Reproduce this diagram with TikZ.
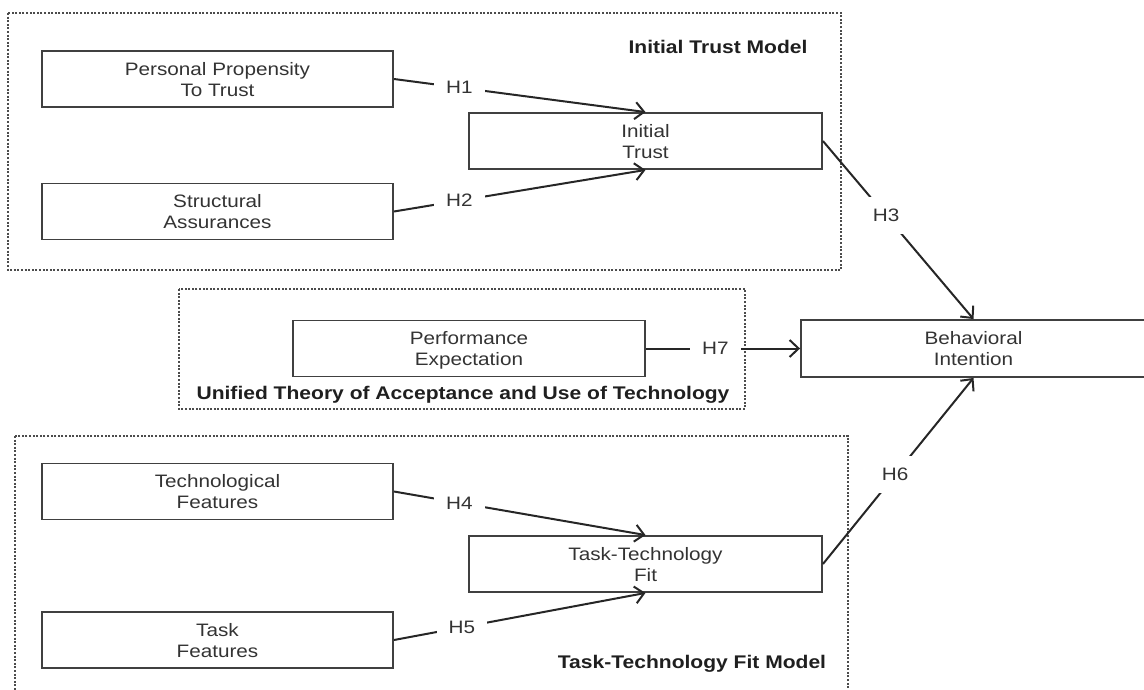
\documentclass[tikz,border=0pt]{standalone}
\usepackage{fontspec}
\setmainfont{Liberation Sans}[FakeStretch=1.15]
\usetikzlibrary{arrows.meta}

\tikzset{
  construct/.style={draw=black!75, line width=1.9pt, minimum width=351pt, minimum height=56pt,
    align=center, text=black!80, font=\fontsize{18}{21}\selectfont, inner sep=0pt, text depth=-3pt},
  modelbox/.style={draw=black!70, line width=1.5pt, dash pattern=on 2pt off 1.6pt},
  modelname/.style={text=black!88, font=\bfseries\fontsize{18.3}{21}\selectfont, inner sep=0pt},
  hyp/.style={fill=white, inner sep=12pt, text=black!80, font=\fontsize{18}{21}\selectfont},
  link/.style={draw=black!85, line width=2pt, -{Straight Barb[length=9pt,width=17pt]}}
}

\begin{document}
\begin{tikzpicture}[x=1pt, y=-1pt]
      \useasboundingbox (0,0) rectangle (1144,689);
      % model frames
      \draw[modelbox] (8,13) rectangle (841,270);
      \draw[modelbox] (179,289) rectangle (745,409);
      \draw[modelbox] (15,436) rectangle (848,700);
      \node[modelname] (itmodel) at (718,47) {Initial Trust Model};
      \node[modelname] (utaut) at (463,395) {Unified Theory of Acceptance and Use of Technology};
      \node[modelname] (ttfmodel) at (692,664) {Task-Technology Fit Model};
      % constructs
      \node[construct] (ppt) at (217.5,79) {Personal Propensity\\To Trust};
      \node[construct] (sa) at (217.5,211.5) {Structural\\Assurances};
      \node[construct, minimum width=353pt] (it) at (645.5,141) {Initial\\Trust};
      \node[construct, minimum width=352pt] (pe) at (469,348.5) {Performance\\Expectation};
      \node[construct, minimum width=345pt, minimum height=57pt] (bi) at (973.5,348.5) {Behavioral\\Intention};
      \node[construct] (tf) at (217.5,491.5) {Technological\\Features};
      \node[construct] (tkf) at (217.5,640) {Task\\Features};
      \node[construct, minimum width=353pt] (ttf) at (645.5,564) {Task-Technology\\Fit};
      % hypotheses
      \begin{scope}[link]
        \draw (ppt.east) to node[hyp, pos=0.26] {H1} (it.north);
        \draw (sa.east) to node[hyp, pos=0.26] {H2} (it.south);
        \draw (it.east) to node[hyp, pos=0.42] {H3} (bi.north);
        \draw (tf.east) to node[hyp, pos=0.26] {H4} (ttf.north);
        \draw (tkf.east) to node[hyp, pos=0.27] {H5} (ttf.south);
        \draw (ttf.east) to node[hyp, pos=0.48] {H6} (bi.south);
        \draw (pe.east) to node[hyp, pos=0.45] {H7} (bi.west);
      \end{scope}
    \end{tikzpicture}
\end{document}
